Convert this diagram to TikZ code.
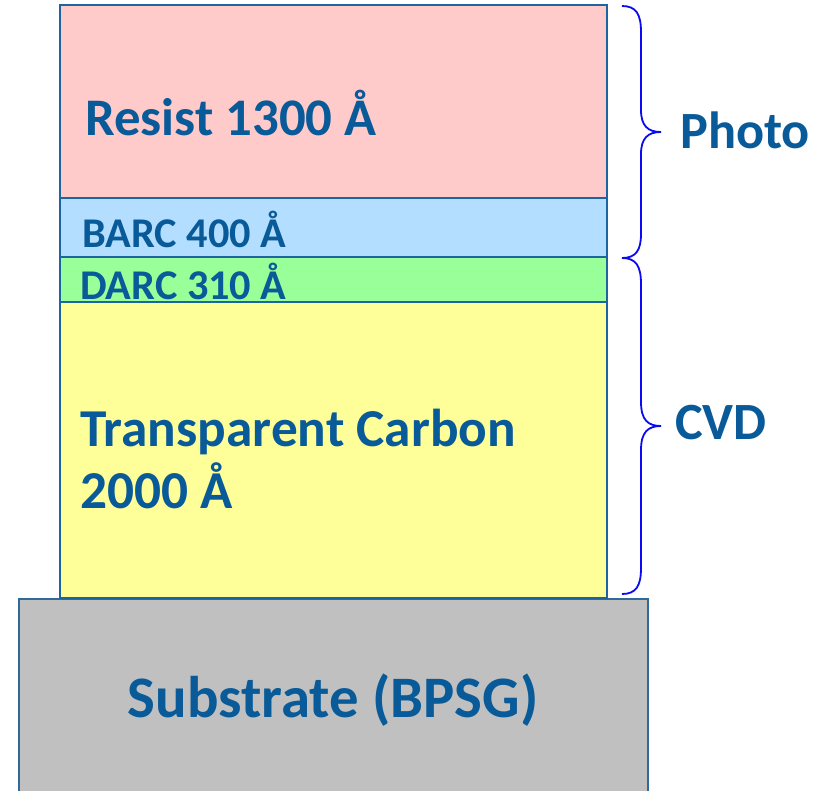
\documentclass[tikz,border=0pt]{standalone}
\usepackage{fontspec}
\setmainfont{Carlito}
\definecolor{txtblue}{RGB}{8,90,152}
\definecolor{edgeblue}{RGB}{30,100,160}
\definecolor{resistfill}{RGB}{255,202,202}
\definecolor{barcfill}{RGB}{180,222,255}
\definecolor{darcfill}{RGB}{153,255,153}
\definecolor{carbonfill}{RGB}{255,255,153}
\definecolor{subfill}{RGB}{192,192,192}
\definecolor{bracecol}{RGB}{10,10,240}
\begin{document}
\begin{tikzpicture}[x=1bp,y=-1bp,
  layer/.style={draw=edgeblue, line width=1.8bp, anchor=north west, inner sep=0pt, outer sep=0pt},
  lbl/.style={text=txtblue, font=\bfseries, anchor=base west, inner sep=0pt},
  bracepath/.style={draw=bracecol, line width=1.8bp}]
\useasboundingbox (0,0) rectangle (817,791);
% film stack
\node[layer, fill=subfill, draw=edgeblue!80!gray, minimum width=629bp, minimum height=200bp] (substrate) at (19,599) {};
\node[layer, fill=carbonfill, minimum width=547bp, minimum height=296bp] (carbon) at (60,302) {};
\node[layer, fill=darcfill, minimum width=547bp, minimum height=45bp] (darc) at (60,257) {};
\node[layer, fill=barcfill, minimum width=547bp, minimum height=59bp] (barc) at (60,198) {};
\node[layer, fill=resistfill, minimum width=547bp, minimum height=193bp] (resist) at (60,5) {};
% layer labels
\node[lbl, font=\fontsize{53}{62}\selectfont\bfseries] (tresist) at (85,135) {Resist 1300 Å};
\node[lbl, font=\fontsize{42.5}{50}\selectfont\bfseries] (tbarc) at (82,247) {BARC 400 Å};
\node[lbl, font=\fontsize{42.5}{50}\selectfont\bfseries] (tdarc) at (80,299) {DARC 310 Å};
\node[lbl, font=\fontsize{53.5}{62}\selectfont\bfseries] (tcarbon1) at (80,446) {Transparent Carbon};
\node[lbl, font=\fontsize{53.5}{62}\selectfont\bfseries] (tcarbon2) at (80,508) {2000 Å};
\node[lbl, font=\fontsize{59}{70}\selectfont\bfseries, anchor=base] (tsub) at (333,717) {Substrate (BPSG)};
% braces grouping the layers
\draw[bracepath] (622,6) .. controls (636,6) and (641,14) .. (641,32)
  -- (641,110) .. controls (641,126) and (648,132) .. (661,132)
  .. controls (648,132) and (641,138) .. (641,154)
  -- (641,234) .. controls (641,250) and (636,258) .. (622,258);
\draw[bracepath] (622,258) .. controls (636,258) and (641,266) .. (641,284)
  -- (641,402) .. controls (641,420) and (648,426) .. (661,426)
  .. controls (648,426) and (641,432) .. (641,450)
  -- (641,568) .. controls (641,586) and (636,594) .. (622,594);
\node[lbl, font=\fontsize{52.5}{62}\selectfont\bfseries] (tphoto) at (680,148) {Photo};
\node[lbl, font=\fontsize{52.5}{62}\selectfont\bfseries] (tcvd) at (675,439) {CVD};
\end{tikzpicture}
\end{document}
